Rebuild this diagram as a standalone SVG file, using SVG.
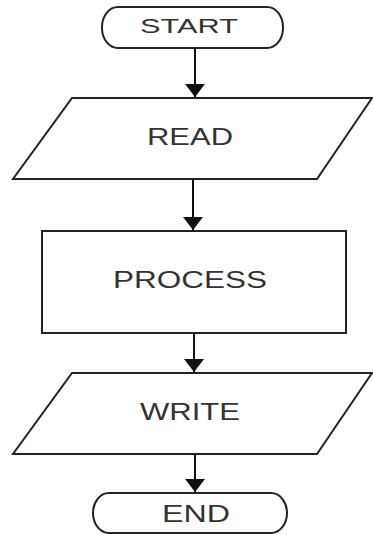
<svg xmlns="http://www.w3.org/2000/svg" width="373" height="535" viewBox="0 0 373 535">
<style>
.shape{fill:#fff;stroke:#222;stroke-width:2}
.lbl{font-family:"Liberation Sans",Arial,sans-serif;font-size:23px;fill:#333;text-anchor:middle}
.conn{stroke:#111;stroke-width:2;fill:none;marker-end:url(#ah)}
</style>
<defs>
<marker id="ah" markerWidth="13" markerHeight="20" refX="13" refY="10" orient="auto" markerUnits="userSpaceOnUse" viewBox="0 0 13 20">
<path d="M0,0 L13,10 L0,20 Z" fill="#111"/>
</marker>
</defs>
<rect width="373" height="535" fill="#fff"/>
<g id="start">
<rect class="shape" x="102" y="7" width="181" height="41" rx="16" ry="20"/>
<text class="lbl" x="189" y="33" textLength="98" lengthAdjust="spacingAndGlyphs" style="font-size:21px">START</text>
</g>
<g id="read">
<polygon class="shape" points="72,98 372,98 317,179 13,179"/>
<text class="lbl" x="190" y="145" textLength="86" lengthAdjust="spacingAndGlyphs">READ</text>
</g>
<g id="process">
<rect class="shape" x="42" y="231" width="304" height="102"/>
<text class="lbl" x="190" y="288" textLength="154" lengthAdjust="spacingAndGlyphs">PROCESS</text>
</g>
<g id="write">
<polygon class="shape" points="72,373 372,373 317,454 13,454"/>
<text class="lbl" x="190" y="420" textLength="100" lengthAdjust="spacingAndGlyphs">WRITE</text>
</g>
<g id="end">
<rect class="shape" x="93" y="493" width="194" height="40" rx="16" ry="20"/>
<text class="lbl" x="196" y="522" textLength="68" lengthAdjust="spacingAndGlyphs">END</text>
</g>
<g id="connectors">
<line class="conn" x1="195" y1="48" x2="195" y2="97"/>
<line class="conn" x1="193" y1="179" x2="193" y2="230"/>
<line class="conn" x1="194" y1="333" x2="194" y2="372"/>
<line class="conn" x1="195" y1="454" x2="195" y2="492"/>
</g>
</svg>
